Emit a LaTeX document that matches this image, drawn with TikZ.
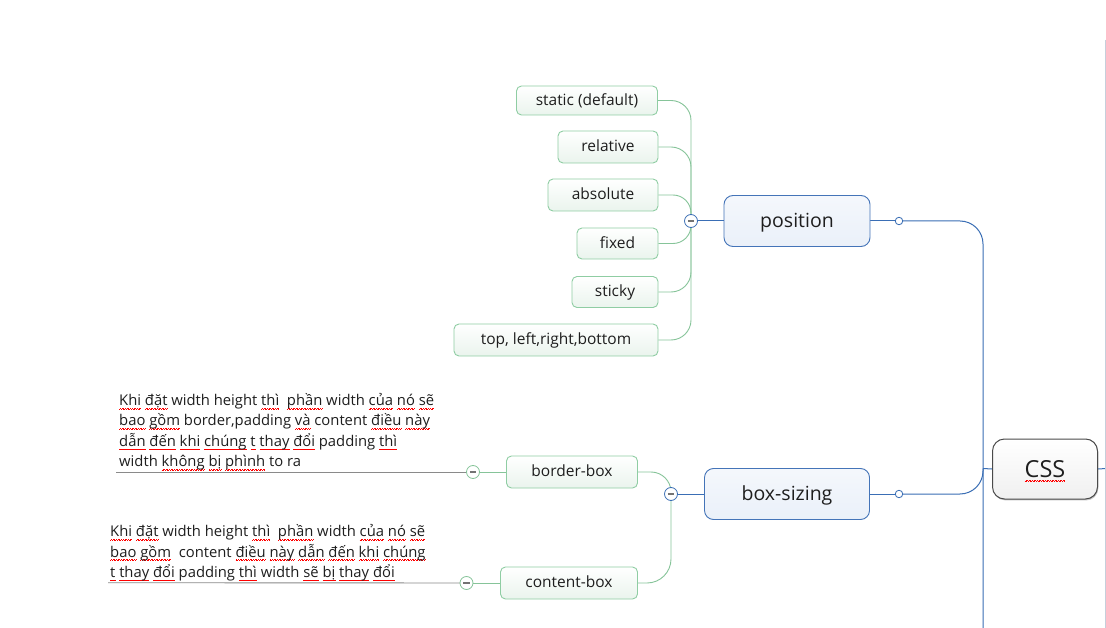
\documentclass[tikz,border=0pt]{standalone}
\usepackage{fontspec}
\setmainfont{Open Sans}
\usetikzlibrary{backgrounds,shadows}
\newbox\sqbox
\newcommand\sq[1]{\leavevmode\setbox\sqbox\hbox{#1}\rlap{\textcolor{red}{\hbox to\wd\sqbox{\xleaders\hbox{\rule[-3.8pt]{0.8pt}{0.7pt}\rule[-3.1pt]{0.8pt}{0.7pt}}\hfill}}}\box\sqbox}
\definecolor{ink}{HTML}{1E1E1E}
\definecolor{gfill}{HTML}{EAF4ED}
\definecolor{gborder}{HTML}{8FCDA3}
\definecolor{gline}{HTML}{86C499}
\definecolor{bfill}{HTML}{EAF0F9}
\definecolor{bborder}{HTML}{4474B8}
\definecolor{bline}{HTML}{3A6EB5}
\definecolor{nline}{HTML}{8A8A8A}
\definecolor{cssborder}{HTML}{4A4A4A}
\definecolor{framec}{HTML}{C6CFDB}

\begin{document}
\begin{tikzpicture}[x=1pt,y=-1pt,
  every node/.style={text=ink, inner sep=0pt},
  subtopic/.style={draw=gborder, line width=0.9pt, rounded corners=5pt, top color=white, bottom color=gfill, font=\fontsize{15.5}{17}\selectfont, text height=13pt, text depth=3.1pt},
  maintopic/.style={draw=bborder, line width=0.9pt, rounded corners=9pt, top color=white!50!bfill, bottom color=bfill, minimum height=51pt, font=\fontsize{19.5}{21}\selectfont, text height=17.6pt, text depth=4pt},
  cssbox/.style={draw=cssborder, line width=1pt, rounded corners=12pt, top color=white, bottom color=black!6, minimum width=105pt, minimum height=60pt, font=\fontsize{23.5}{25}\selectfont, text height=22.6pt, text depth=5pt, drop shadow={shadow xshift=0.8pt, shadow yshift=-1.4pt, opacity=0.45}},
  foldmark/.style={circle, draw=#1, fill=white, line width=0.8pt, minimum size=13pt, path picture={\draw[black!55, line width=1.8pt] ([xshift=-3.2pt]path picture bounding box.center) -- ([xshift=3.2pt]path picture bounding box.center);}},
  tipdot/.style={circle, draw=bline, fill=white, line width=0.8pt, minimum size=7.5pt},
  gconn/.style={draw=gline, line width=0.9pt},
  bconn/.style={draw=bline, line width=1pt},
  notetext/.style={align=left, anchor=base west, font=\fontsize{14.8}{20.3}\selectfont},
  noteline/.style={draw=nline, line width=0.9pt}]
  \useasboundingbox (0,0) rectangle (1106,628);

  \node[subtopic, minimum width=141pt, minimum height=29pt] (st) at (587,100.5) {static (default)};
  \node[subtopic, minimum width=100pt, minimum height=32pt] (rel) at (608,147) {relative};
  \node[subtopic, minimum width=110pt, minimum height=32pt] (abs) at (603,195) {absolute};
  \node[subtopic, minimum width=81pt, minimum height=31pt] (fix) at (617.5,243.5) {fixed};
  \node[subtopic, minimum width=86pt, minimum height=31pt] (sti) at (615,292) {sticky};
  \node[subtopic, minimum width=204pt, minimum height=32pt] (tlrb) at (556,340) {top, left,right,bottom};
  \node[foldmark=bline] (pf) at (691,221) {};
  \node[maintopic, minimum width=146pt] (pos) at (797,221) {position};
  \node[tipdot] (pd) at (899,221) {};

  \node[subtopic, minimum width=131pt, minimum height=32pt] (bb) at (572,472) {border-box};
  \node[subtopic, minimum width=137pt, minimum height=32pt] (cb) at (569,583) {content-box};
  \node[foldmark=gline] (bbf) at (473,472) {};
  \node[foldmark=gline] (cbf) at (466.5,583) {};
  \node[foldmark=bline] (bf) at (671,494) {};
  \node[maintopic, minimum width=165pt] (bs) at (787,494) {box-sizing};
  \node[tipdot] (bd) at (899,494) {};

  \node[cssbox] (css) at (1045,469) {\sq{CSS}};
  \coordinate (hub) at (983,468.5);
  \coordinate (tbot) at (983,628);
  \coordinate (cssr) at (1106,468.5);

  \node[notetext] (bbnote) at (119,466.5) {\sq{Khi} \sq{đặt} width height \sq{thì}\ \ \sq{phần} width \sq{của} \sq{nó} \sq{sẽ}\\
    \sq{bao} \sq{gồm} border,padding \sq{và} content \sq{điều} \sq{này}\\
    \sq{dẫn} \sq{đến} \sq{khi} \sq{chúng} \sq{t} \sq{thay} \sq{đổi} padding \sq{thì}\\
    width \sq{không} \sq{bị} \sq{phình} to ra};
  \coordinate (bbl) at (116,472);
  \node[notetext] (cbnote) at (110,577.3) {\sq{Khi} \sq{đặt} width height \sq{thì}\ \ \sq{phần} width \sq{của} \sq{nó} \sq{sẽ}\\
    \sq{bao} \sq{gồm}\ \ content \sq{điều} \sq{này} \sq{dẫn} \sq{đến} \sq{khi} \sq{chúng}\\
    \sq{t} \sq{thay} \sq{đổi} padding \sq{thì} width \sq{sẽ} \sq{bị} \sq{thay} \sq{đổi}};
  \coordinate (cbl) at (108,582.7);

  \begin{scope}[on background layer]
    \fill[white] (0,0) rectangle (1106,628);
    \foreach \n/\r in {st/20,rel/20,abs/18,fix/18,sti/20,tlrb/20}
      \draw[gconn, rounded corners=\r pt] (\n.east) -| (pf.center);
    \draw[gconn, rounded corners=20pt] (bb.east) -| (bf.center);
    \draw[gconn, rounded corners=24pt] (cb.east) -| (bf.center);
    \draw[bconn] (pf.center) -- (pos.west);
    \draw[bconn] (bf.center) -- (bs.west);
    \draw[bconn] (pos.east) -- (pd.center);
    \draw[bconn] (bs.east) -- (bd.center);
    \draw[bconn, rounded corners=23pt] (pd.center) -| (tbot);
    \draw[bconn, rounded corners=23pt] (bd.center) -| (hub);
    \draw[bconn] (hub) -- (css.west);
    \draw[bconn] (css.east) -- (cssr);
    \draw[framec, line width=1pt] (1105.5,40) -- (1105.5,628);
    \draw[gconn] (bbf.center) -- (bb.west);
    \draw[gconn] (cbf.center) -- (cb.west);
    \draw[noteline] (bbl) -- (bbf.center);
    \draw[noteline] (cbl) -- (cbf.center);
  \end{scope}
\end{tikzpicture}
\end{document}
